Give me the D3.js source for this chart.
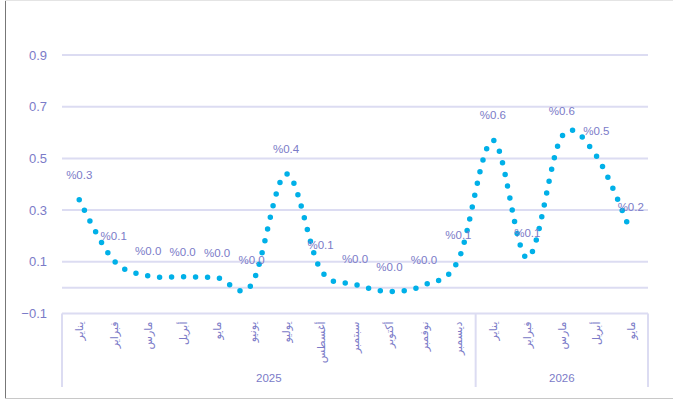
<!DOCTYPE html>
<html>
<head>
<meta charset="utf-8">
<script src="https://cdn.jsdelivr.net/npm/d3@7"></script>
<style>
  html, body { margin: 0; padding: 0; background: #fff; }
  #chart { width: 673px; height: 400px; }
</style>
</head>
<body>
<div id="chart"></div>
<script>
const months = ["يناير", "فبراير", "مارس", "أبريل", "مايو", "يونيو", "يوليو", "أغسطس",
                "سبتمبر", "أكتوبر", "نوفمبر", "ديسمبر",
                "يناير", "فبراير", "مارس", "أبريل", "مايو"];
const years = [
    { label: "2025", count: 12 },
    { label: "2026", count: 5 }
];
const values = [0.34, 0.105, 0.046, 0.042, 0.038, 0.012, 0.44, 0.07,
                0.013, -0.015, 0.01, 0.108, 0.57, 0.115, 0.585, 0.51, 0.215];
const yTicks = [0.9, 0.7, 0.5, 0.3, 0.1, -0.1];

const width = 673;
const height = 400;
const textColor = "#7b7bc8";
const gridColor = "#dcdcf2";
const lineColor = "#00b0e8";

const svg = d3.select("#chart")
    .append("svg")
    .attr("width", width)
    .attr("height", height);

// --- outer frame ---
svg.append("line")
    .attr("x1", 5.5).attr("x2", 5.5).attr("y1", 0).attr("y2", 398)
    .style("stroke", "#777").style("stroke-width", 1);
svg.append("line")
    .attr("x1", 5).attr("x2", width).attr("y1", 398.5).attr("y2", 398.5)
    .style("stroke", "#c8c8c8").style("stroke-width", 1);
svg.append("line")
    .attr("x1", 5).attr("x2", width).attr("y1", 0.5).attr("y2", 0.5)
    .style("stroke", "#e4e4e4").style("stroke-width", 1);

// --- scales ---
const x = d3.scaleBand()
    .domain(d3.range(months.length))
    .range([62, 648]);

const y = d3.scaleLinear()
    .domain([-0.1, 0.9])
    .range([313.5, 55]);

// --- gridlines (plus the zero line where the category axis crosses) ---
svg.append("g")
    .selectAll("line")
    .data(yTicks.filter(d => d > -0.1).concat([0]))
    .enter()
    .append("line")
    .attr("x1", x.range()[0])
    .attr("x2", x.range()[1])
    .attr("y1", d => y(d))
    .attr("y2", d => y(d))
    .style("stroke", gridColor)
    .style("stroke-width", 2);

// --- y axis labels ---
const yAxis = svg.append("g")
    .attr("transform", "translate(47,0)")
    .call(d3.axisLeft(y).tickValues(yTicks).tickSize(0).tickPadding(0).tickFormat(d3.format(".1f")));
yAxis.select(".domain").remove();
yAxis.selectAll("text")
    .style("font", "13px 'Liberation Sans', Arial, sans-serif")
    .style("fill", textColor);

// --- multi-level category box ---
const boxTop = y(-0.1);
const boxBottom = 387;
const box = svg.append("g")
    .style("stroke", gridColor)
    .style("stroke-width", 2);

box.append("line")
    .attr("x1", x.range()[0]).attr("x2", x.range()[1])
    .attr("y1", boxTop).attr("y2", boxTop);

let start = 0;
const yearBounds = [0];
years.forEach(yr => {
    start += yr.count;
    yearBounds.push(start);
});

box.selectAll(".sep")
    .data(yearBounds)
    .enter()
    .append("line")
    .attr("class", "sep")
    .attr("x1", d => d < months.length ? x(d) : x.range()[1])
    .attr("x2", d => d < months.length ? x(d) : x.range()[1])
    .attr("y1", boxTop)
    .attr("y2", boxBottom);

// month labels, vertical
svg.append("g")
    .selectAll("text")
    .data(months)
    .enter()
    .append("text")
    .attr("transform", (d, i) => `translate(${x(i) + x.bandwidth() / 2 + 4},${boxTop + 8}) rotate(-90)`)
    .attr("text-anchor", "end")
    .style("font", "11px 'DejaVu Sans', sans-serif")
    .style("fill", textColor)
    .text(d => d);

// year labels
svg.append("g")
    .selectAll("text")
    .data(years)
    .enter()
    .append("text")
    .attr("x", (d, i) => {
        const a = x(yearBounds[i]);
        const b = yearBounds[i + 1] < months.length ? x(yearBounds[i + 1]) : x.range()[1];
        return (a + b) / 2;
    })
    .attr("y", 382)
    .attr("text-anchor", "middle")
    .style("font", "11.5px 'Liberation Sans', Arial, sans-serif")
    .style("fill", textColor)
    .text(d => d.label);

// --- dotted smooth line ---
const line = d3.line()
    .x((d, i) => x(i) + x.bandwidth() / 2)
    .y(d => y(d))
    .curve(d3.curveCardinal.tension(0));

svg.append("path")
    .datum(values)
    .attr("d", line)
    .style("fill", "none")
    .style("stroke", lineColor)
    .style("stroke-width", 5.5)
    .style("stroke-linecap", "round")
    .style("stroke-dasharray", "0 12");

// --- data labels ---
const fmt = v => "%" + d3.format(".1f")(Math.abs(v) < 0.05 ? 0 : v);

svg.append("g")
    .selectAll("text")
    .data(values)
    .enter()
    .append("text")
    .attr("x", (d, i) => x(i) + x.bandwidth() / 2)
    .attr("y", d => y(d) - 21)
    .attr("text-anchor", "middle")
    .style("font", "11.5px 'Liberation Sans', Arial, sans-serif")
    .style("fill", textColor)
    .text(d => fmt(d));
</script>
</body>
</html>
